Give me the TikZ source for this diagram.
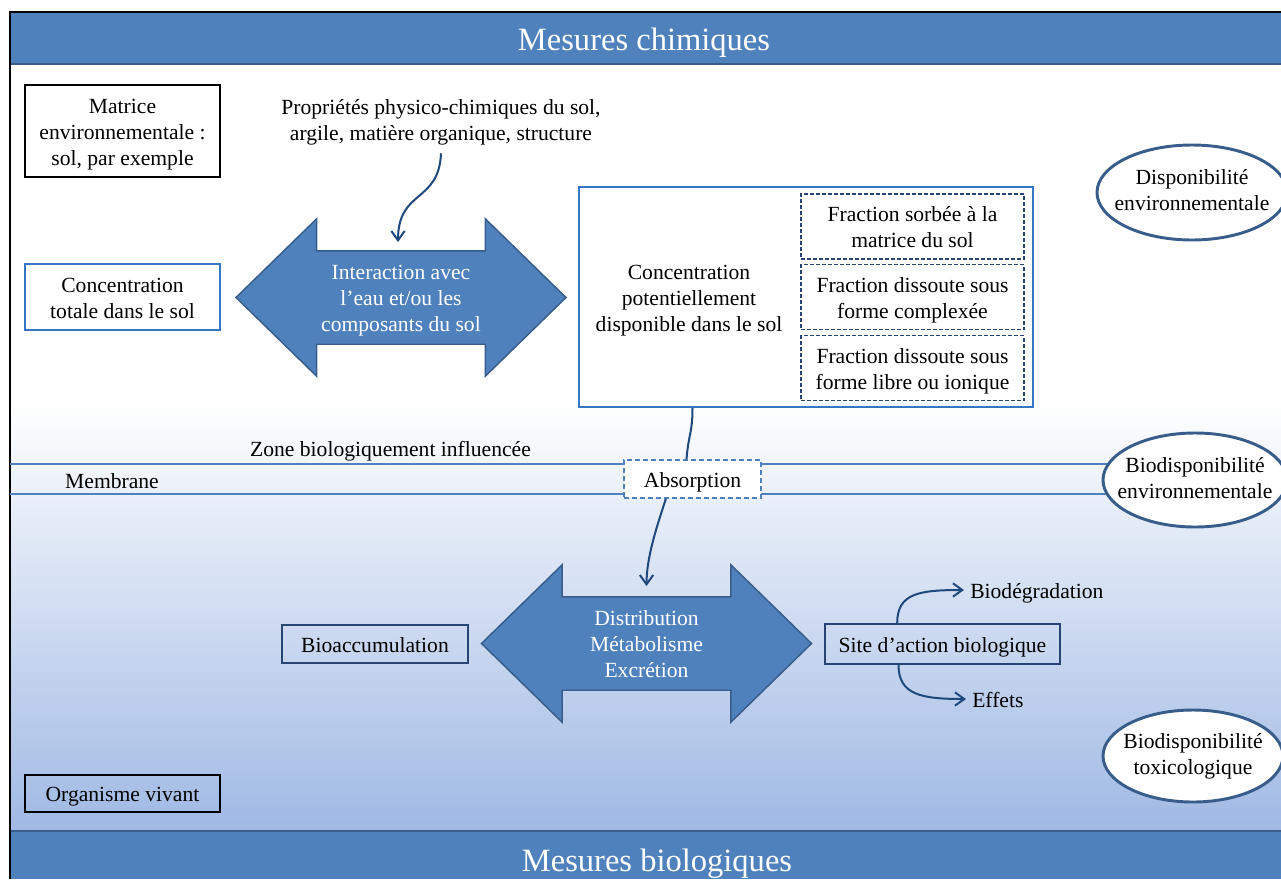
\documentclass[tikz,border=0pt]{standalone}
\usepackage{fontspec}
\setmainfont{Liberation Serif}
\usetikzlibrary{shapes.geometric,shapes.arrows,arrows.meta}

\definecolor{bandblue}{RGB}{79,129,189}
\definecolor{bandedge}{RGB}{56,93,138}
\definecolor{boxblue}{RGB}{52,120,195}
\definecolor{darkblue}{RGB}{40,68,115}
\definecolor{curveblue}{RGB}{31,73,125}
\definecolor{bgblue}{RGB}{160,185,228}

\newcommand{\ts}{\rule[-3.5pt]{0pt}{19.5pt}}

\begin{document}
\begin{tikzpicture}[x=0.75pt, y=-0.75pt,
    every node/.style={font=\fontsize{16.2}{19.5}\selectfont, align=center, inner sep=0pt},
    txt/.style={execute at begin node=\ts},
    bandtext/.style={font=\fontsize{24.4}{28}\selectfont, text=white, execute at begin node=\rule{0pt}{22.5pt}},
    blackbox/.style={txt, draw=black, line width=1.2pt},
    bluebox/.style={txt, draw=boxblue, fill=white, line width=1.2pt},
    darkbox/.style={txt, draw=darkblue, line width=1.1pt},
    fracbox/.style={txt, draw=darkblue, dash pattern=on 3pt off 1.5pt, line width=1pt, minimum width=167.25pt, minimum height=48.75pt},
    absbox/.style={txt, draw=bandblue, fill=white, dash pattern=on 4pt off 2pt, line width=1.2pt},
    bubble/.style={ellipse, draw=bandedge, fill=white, line width=2.2pt},
    bigarrow/.style={double arrow, fill=bandblue, draw=bandedge, line width=1.1pt, text=white,
        double arrow head extend=24pt, double arrow tip angle=88.6, minimum height=247.5pt, minimum width=117pt},
    curvearrow/.style={draw=curveblue, line width=1.5pt, -{Straight Barb[length=7pt,width=10pt]}},
    curveline/.style={draw=curveblue, line width=1.5pt}]

    \clip (0,0) rectangle (1281,879);
    \shade[top color=white, bottom color=bgblue] (10,400) rectangle (1281,830);

    \fill[bandblue] (10,12) rectangle (1300,65);
    \fill[bandblue] (10,830) rectangle (1300,879);
    \draw[bandedge, line width=1.5pt] (10,64) -- (1300,64);
    \draw[bandedge, line width=1.5pt] (10,831) -- (1300,831);
    \draw[black, line width=1.5pt] (10,879) -- (10,12) -- (1300,12);
    \node[bandtext] (chimie) at (644,39) {Mesures chimiques};
    \node[bandtext] (biologie) at (657,860) {Mesures biologiques};

    \draw[bandblue, line width=1.2pt] (10,464) -- (1281,464);
    \draw[bandblue, line width=1.2pt] (10,494) -- (1281,494);

    \node[blackbox, minimum width=146.25pt, minimum height=69pt] (matrice) at (122.5,131) {\ts Matrice\\ environnementale :\\ sol, par exemple};
    \node[txt] (props) at (441,119) {\ts Propriétés physico-chimiques du sol,\\ argile, matière organique, structure};
    \node[bluebox, minimum width=146.25pt, minimum height=49.5pt] (conctot) at (122.5,297) {\ts Concentration\\ totale dans le sol};
    \node[bigarrow] (interac) at (401,297.5) {\parbox[c][69pt][c]{124pt}{\centering\ts Interaction avec\\ l’eau et/ou les\\ composants du sol\ts}};

    \node[bluebox, minimum width=340.5pt, minimum height=165pt] (potsol) at (806,297) {};
    \node[txt] (pottxt) at (689,297) {\ts Concentration\\ potentiellement\\ disponible dans le sol};
    \node[fracbox] (sorbee) at (912.5,226.5) {\ts Fraction sorbée à la\\ matrice du sol};
    \node[fracbox] (complexe) at (912.5,297) {\ts Fraction dissoute sous\\ forme complexée};
    \node[fracbox] (libre) at (912.5,368) {\ts Fraction dissoute sous\\ forme libre ou ionique};

    \node[bubble, minimum width=142.5pt, minimum height=71.25pt,
        label={[txt, name=dispotxt]center:{Disponibilité\\ environnementale}}] (dispoenv) at (1192,192.5) {};
    \node[bubble, minimum width=138pt, minimum height=70.5pt,
        label={[txt, name=biodispotxt]center:{Biodisponibilité\\ environnementale}}] (biodispoenv) at (1195,480) {};
    \node[bubble, minimum width=135pt, minimum height=69pt,
        label={[txt, name=toxtxt]center:{Biodisponibilité\\ toxicologique}}] (biodispotox) at (1193,756) {};

    \node[txt] (zone) at (390.5,448) {Zone biologiquement influencée};
    \node[txt] (membrane) at (112,480) {Membrane};
    \node[absbox, minimum width=102.75pt, minimum height=28.5pt] (absorp) at (692.5,479) {Absorption};

    \node[bigarrow] (distrib) at (646.5,643.5) {\parbox[c][69pt][c]{124pt}{\centering\ts Distribution\\ Métabolisme\\ Excrétion\ts}};
    \node[darkbox, minimum width=139.5pt, minimum height=28.5pt] (bioacc) at (375,644) {Bioaccumulation};
    \node[darkbox, minimum width=176.25pt, minimum height=30pt] (site) at (942.5,644) {Site d’action biologique};
    \node[txt, anchor=west, inner xsep=4.5pt] (biodeg) at (964,590) {Biodégradation};
    \node[txt, anchor=west, inner xsep=4.5pt] (effets) at (966,699) {Effets};
    \node[blackbox, minimum width=146.25pt, minimum height=27.75pt] (organisme) at (122.5,793.5) {Organisme vivant};

    \draw[curvearrow] ([yshift=-6pt]props.south) .. controls +(-2,50) and +(0,-53) .. ([xshift=-2.25pt,yshift=6pt]interac.north);
    \draw[curveline] (absorp.north |- potsol.south) .. controls +(0,25) and +(2,-25) .. ([xshift=-4.5pt]absorp.north);
    \draw[curvearrow] ([xshift=-20pt]absorp.south) .. controls +(-8,25) and +(0,-30) .. ([yshift=7.5pt]distrib.north);
    \draw[curvearrow] ([xshift=-34pt]site.north) .. controls +(0,-30) and +(-45,0) .. (biodeg.west);
    \draw[curvearrow] ([xshift=-33pt]site.south) .. controls +(0,30) and +(-45,0) .. (effets.west);
\end{tikzpicture}
\end{document}
